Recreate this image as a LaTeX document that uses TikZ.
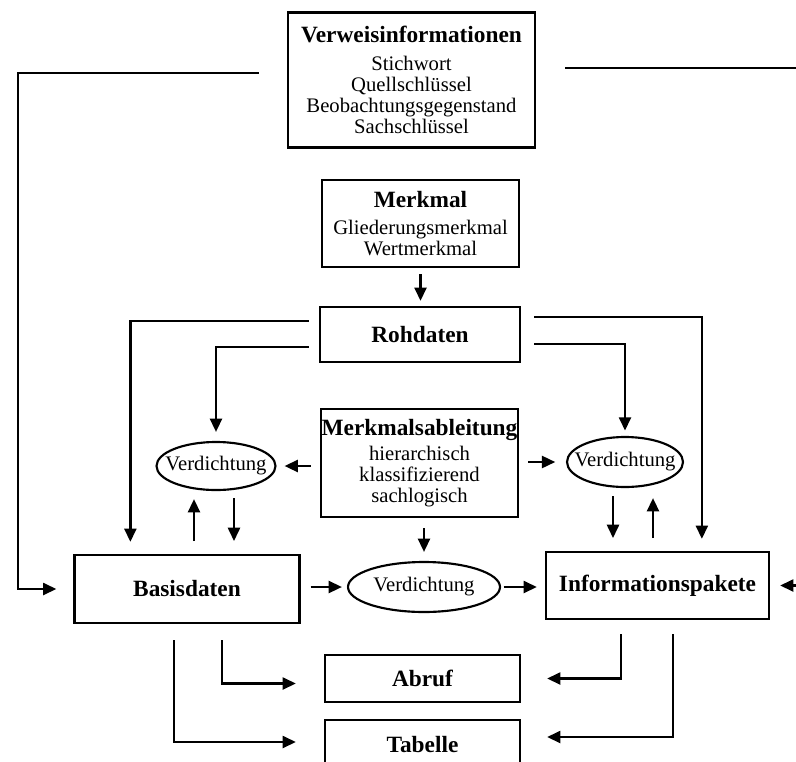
\documentclass[tikz,border=0pt]{standalone}
\usepackage{fontspec}
\setmainfont{Liberation Serif}
\usetikzlibrary{arrows.meta,calc,shapes.geometric}
\newcommand{\titf}{\fontsize{17.5}{18}\selectfont\bfseries}
\newcommand{\bodf}{\fontsize{15.5}{15.75}\selectfont}
\begin{document}
\begin{tikzpicture}[x=0.75pt,y=-0.75pt,
  box/.style={draw, line width=1.7pt, inner sep=0pt, align=center, font=\bodf},
  ell/.style={draw, ellipse, line width=1.6pt, inner sep=0pt, font=\bodf},
  conn/.style={line width=1.8pt},
  arr/.style={conn, -{Triangle[length=10pt,width=9pt]}}]
\useasboundingbox (0,0) rectangle (796,761);
\clip (0,0) rectangle (796,761);

\node[box, minimum width=185.25pt, minimum height=101.25pt] (verw) at (411.5,80)
  {{\titf Verweisinformationen}\\[5pt] Stichwort\\ Quellschlüssel\\ Beobachtungsgegenstand\\ Sachschlüssel};
\node[box, minimum width=147.75pt, minimum height=65.25pt] (merk) at (420.5,223.5)
  {{\titf Merkmal}\\[4pt] Gliederungsmerkmal\\ Wertmerkmal};
\node[box, minimum width=150pt, minimum height=41.25pt, font=\titf] (roh) at (420,334.5) {Rohdaten};
\node[box, minimum width=147.75pt, minimum height=81pt] (abl) at (419.5,463)
  {{\titf Merkmalsableitung}\\[3pt] hierarchisch\\ klassifizierend\\ sachlogisch};
\node[box, minimum width=168.75pt, minimum height=51pt, font=\titf] (basis) at (187,589) {Basisdaten};
\node[box, minimum width=167.25pt, minimum height=50.25pt, font=\titf] (info) at (657.5,585.5) {Informationspakete};
\node[box, minimum width=146.25pt, minimum height=35.25pt, font=\titf] (abruf) at (422.5,678.5) {Abruf};
\node[box, minimum width=146.25pt, minimum height=37.5pt, font=\titf] (tab) at (422.5,745) {Tabelle};
\node[ell, minimum width=89.25pt, minimum height=36pt] (ellL) at (216,466) {\makebox[0pt]{Verdichtung}};
\node[ell, minimum width=87pt, minimum height=37.5pt] (ellR) at (625,462) {\makebox[0pt]{Verdichtung}};
\node[ell, minimum width=114pt, minimum height=37.5pt] (ellB) at (424,587) {\makebox[0pt]{Verdichtung}};

% Verweisinformationen
\coordinate (vl) at (18,73);
\draw[arr, shorten >=12.75pt] ($(verw.west)+(-28,-7)$) -- (vl) |- (basis.west);
\coordinate (vr) at (800,68);
\draw[conn] ($(verw.east)+(29,-12)$) -- (vr);
\coordinate (re) at (800,585.5);
\draw[arr, shorten >=7.5pt] (re) -- (info.east);

% Merkmal -> Rohdaten
\draw[arr, shorten <=4.5pt, shorten >=3.75pt] (merk.south) -- (merk.south |- roh.north);

% Rohdaten outputs
\draw[arr, shorten >=9pt] ($(roh.north west)+(-10,15)$) -| ($(basis.north west)+(57,0)$);
\draw[arr, shorten >=6.75pt] ($(roh.north west)+(-10,41)$) -| (ellL.north);
\draw[arr, shorten >=9pt] ($(roh.north east)+(13,11)$) -| ($(info.north west)+(157,0)$);
\draw[arr, shorten >=4pt] ($(roh.north east)+(13,38)$) -| (ellR.north);

% Merkmalsableitung
\draw[arr, shorten <=7pt, shorten >=6pt] (abl.west |- ellL.east) -- (ellL.east);
\draw[arr, shorten <=7pt, shorten >=8pt] (abl.east |- ellR.west) -- (ellR.west);
\draw[arr, shorten <=7.5pt, shorten >=6.75pt] (ellB.north |- abl.south) -- (ellB.north);

% small arrows
\draw[arr] ($(ellL.south)+(-22,50)$) -- ($(ellL.south)+(-22,8)$);
\draw[arr] ($(ellL.south)+(18,7)$) -- ($(ellL.south)+(18,50)$);
\draw[arr] ($(ellR.south)+(-12,8)$) -- ($(ellR.south)+(-12,50)$);
\draw[arr] ($(ellR.south)+(28,50)$) -- ($(ellR.south)+(28,10)$);

% middle row
\draw[arr, shorten <=7.5pt, shorten >=3.75pt] (basis.east |- ellB.west) -- (ellB.west);
\draw[arr, shorten <=2pt, shorten >=6pt] (ellB.east) -- (ellB.east -| info.west);

% bottom
\draw[arr, shorten >=21pt] ($(basis.south west)+(148.5,16)$) |- ($(abruf.west)+(0,5)$);
\draw[arr, shorten >=21pt] ($(basis.south west)+(100.5,16)$) |- ($(tab.west)+(0,-3)$);
\draw[arr, shorten >=19.5pt] ($(info.south west)+(76,14)$) |- (abruf.east);
\draw[arr, shorten >=19.5pt] ($(info.south west)+(128,14)$) |- ($(tab.east)+(0,-8)$);
\end{tikzpicture}
\end{document}
